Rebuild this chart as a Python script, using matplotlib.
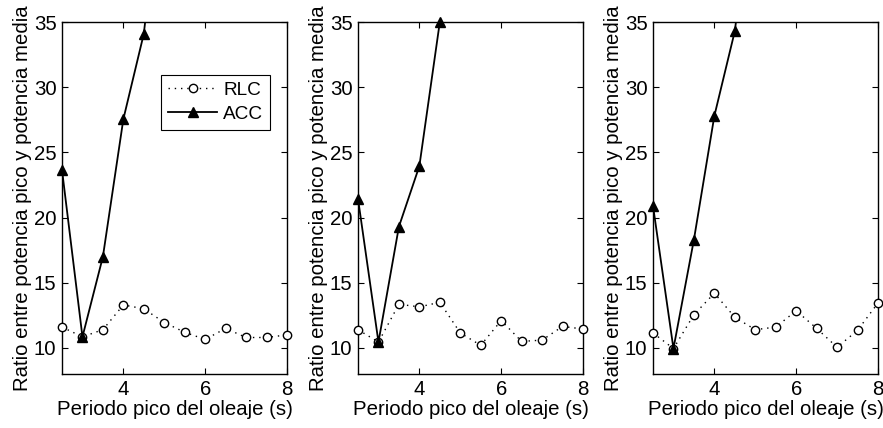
import matplotlib
matplotlib.use('Agg')
import matplotlib.pyplot as plt
import numpy as np

plt.rcParams['font.family'] = ['Liberation Sans', 'DejaVu Sans']

periodo = [2.5, 3.0, 3.5, 4.0, 4.5, 5.0, 5.5, 6.0, 6.5, 7.0, 7.5, 8.0]

rlc_1 = [11.6, 10.85, 11.4, 13.3, 13.0, 11.95, 11.2, 10.65, 11.5, 10.8, 10.8, 11.0]
rlc_2 = [11.4, 10.45, 13.35, 13.15, 13.5, 11.15, 10.2, 12.1, 10.5, 10.6, 11.65, 11.45]
rlc_3 = [11.15, 9.95, 12.55, 14.2, 12.35, 11.4, 11.6, 12.85, 11.5, 10.05, 11.35, 13.45]

periodo_acc = [2.5, 3.0, 3.5, 4.0, 4.5, 5.0]
acc_1 = [23.65, 10.85, 17.0, 27.55, 34.1, 48.0]
acc_2 = [21.45, 10.45, 19.3, 23.95, 35.0, 46.0]
acc_3 = [20.9, 9.95, 18.3, 27.8, 34.3, 47.0]

rlc_all = [rlc_1, rlc_2, rlc_3]
acc_all = [acc_1, acc_2, acc_3]

W, H = 883, 428
fig = plt.figure(figsize=(W / 100, H / 100), dpi=100)

lefts = [62, 358, 653]
fs = 14.7
for i in range(3):
    ax = fig.add_axes([lefts[i] / W, 1 - 374 / H, 225 / W, 352 / H])
    x = np.array(periodo)
    y = np.array(rlc_all[i])
    ax.plot(x, y, color='k', lw=1.0, dashes=(1, 3.5), label='RLC',
            marker='o', mfc='white', mec='k', ms=6, mew=1.0, clip_on=False, zorder=3)
    xa = np.array(periodo_acc)
    ya = np.array(acc_all[i])
    ax.plot(xa, ya, '-', color='k', lw=1.3, zorder=4)
    m = ya <= 35.05
    ax.plot(xa[m], ya[m], linestyle='none', marker='^', color='k', ms=7,
            clip_on=False, zorder=5)
    # legend proxy
    ax.plot([], [], '-', color='k', lw=1.3, marker='^', ms=7, label='ACC')

    ax.set_xlim(2.5, 8)
    ax.set_ylim(8, 35)
    ax.set_xticks([4, 6, 8])
    ax.set_yticks([10, 15, 20, 25, 30, 35])
    ax.tick_params(direction='in', top=True, right=True, labelsize=fs, length=4, width=0.8, pad=4)
    for s in ax.spines.values():
        s.set_linewidth(1.0)
    ax.set_xlabel('Periodo pico del oleaje (s)', fontsize=fs, labelpad=1)
    ax.set_ylabel('Ratio entre potencia pico y potencia media', fontsize=fs, labelpad=1)

    if i == 0:
        leg = ax.legend(loc='upper right', bbox_to_anchor=(0.924, 0.849), fontsize=fs - 1,
                        fancybox=False, framealpha=1, edgecolor='k',
                        handlelength=2.6, borderpad=0.35, labelspacing=0.35,
                        handletextpad=0.3, borderaxespad=0)
        leg.get_frame().set_linewidth(0.8)

fig.savefig('out.png', dpi=100)
